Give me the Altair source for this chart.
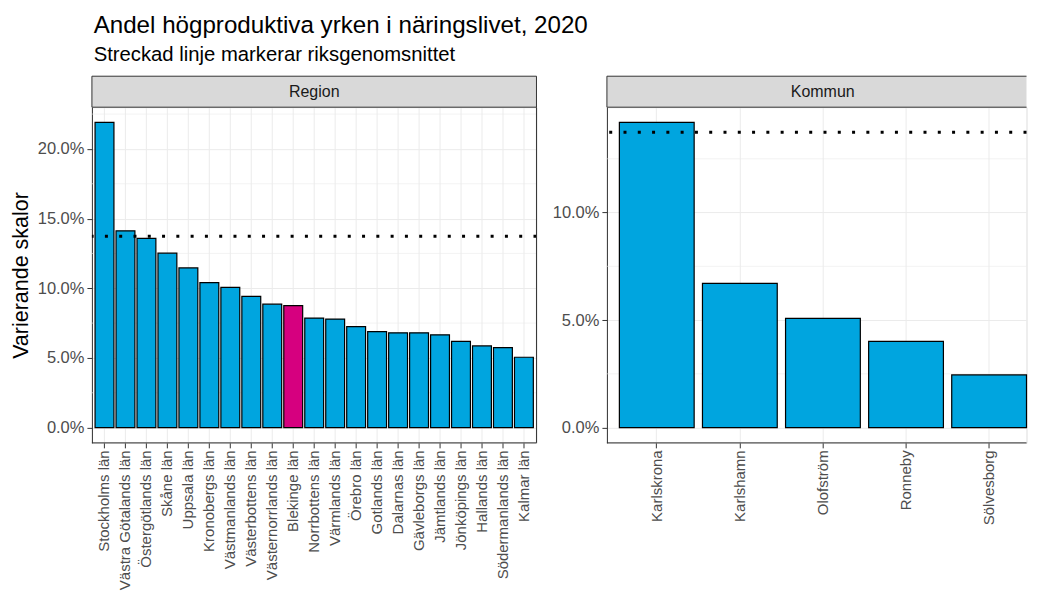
import altair as alt
import pandas as pd

FONT = "Liberation Sans"

region_names = ["Stockholms län", "Västra Götalands län", "Östergötlands län", "Skåne län",
                "Uppsala län", "Kronobergs län", "Västmanlands län", "Västerbottens län",
                "Västernorrlands län", "Blekinge län", "Norrbottens län", "Värmlands län",
                "Örebro län", "Gotlands län", "Dalarnas län", "Gävleborgs län", "Jämtlands län",
                "Jönköpings län", "Hallands län", "Södermanlands län", "Kalmar län"]
region_values = [0.2190, 0.1412, 0.1358, 0.1252, 0.1146, 0.1041, 0.1006, 0.0942, 0.0886,
                 0.0875, 0.0786, 0.0779, 0.0725, 0.0689, 0.0680, 0.0680, 0.0666, 0.0619,
                 0.0586, 0.0574, 0.0505]
kommun_names = ["Karlskrona", "Karlshamn", "Olofström", "Ronneby", "Sölvesborg"]
kommun_values = [0.1419, 0.0671, 0.0508, 0.0401, 0.0245]
highlight = "Blekinge län"
riks_avg = 0.1373
major_ticks = [0.0, 0.05, 0.10, 0.15, 0.20]
minor_ticks = [0.025, 0.075, 0.125, 0.175, 0.225]

BLUE = "#00A5DF"
PINK = "#D6007F"
GRID = "#EBEBEB"
DARK = "#333333"
STRIP_H = 31


def panel(strip_label, names, values, width, height, pad_outer, align,
          y_title, full_border):
    df = pd.DataFrame({
        "namn": names,
        "andel": values,
        "grupp": ["markerad" if n == highlight else "övrig" for n in names],
    })
    vmax = max(values)
    dom = [-0.05 * vmax, 1.05 * vmax]
    yscale = alt.Scale(domain=dom, nice=False, zero=False)
    ticks = [t for t in major_ticks if t <= dom[1]]
    minors = [t for t in minor_ticks if t <= dom[1]]

    xscale = alt.Scale(paddingInner=0.1, paddingOuter=pad_outer, align=align)
    x = alt.X("namn:N", sort=names, title=None, scale=xscale,
              axis=alt.Axis(labelAngle=270, labelAlign="right", labelBaseline="middle",
                            labelFontSize=15, labelColor="#4D4D4D", labelFont=FONT,
                            labelPadding=2, tickColor=DARK, tickSize=5, ticks=True,
                            grid=True, gridColor=GRID, gridWidth=1, bandPosition=0.5,
                            domain=False, labelOverlap=False))
    yaxis = alt.Axis(values=ticks, format=".1%", labelFontSize=16.5, labelColor="#4D4D4D",
                     labelFont=FONT, labelPadding=3, tickColor=DARK, tickSize=5,
                     grid=True, gridColor=GRID, gridWidth=1, domain=True, domainColor=DARK,
                     domainWidth=1, titleFont=FONT, titleFontSize=21.5, titleFontWeight="normal",
                     titleColor="black", titlePadding=5)
    if y_title:
        y = alt.Y("andel:Q", scale=yscale, title=y_title, axis=yaxis)
    else:
        y = alt.Y("andel:Q", scale=yscale, title=None, axis=yaxis)

    minor = alt.Chart(pd.DataFrame({"v": minors})).mark_rule(
        color=GRID, strokeWidth=0.6).encode(y=alt.Y("v:Q", scale=yscale))

    bars = alt.Chart(df).mark_bar(stroke="black", strokeWidth=1.2).encode(
        x=x, y=y, y2=alt.datum(0),
        color=alt.Color("grupp:N", scale=alt.Scale(domain=["övrig", "markerad"],
                                                    range=[BLUE, PINK]), legend=None))

    avg = alt.Chart(pd.DataFrame({"snitt": [riks_avg]})).mark_rule(
        color="black", strokeWidth=3, strokeDash=[3, 11.3], strokeCap="butt").encode(
        y=alt.Y("snitt:Q", scale=yscale))

    sdf = pd.DataFrame({"etikett": [strip_label]})
    strip_bg = alt.Chart(sdf).mark_rect(fill="#D9D9D9", stroke=DARK if full_border else None,
                                         strokeWidth=1).encode(
        x=alt.value(0), x2=alt.value(width), y=alt.value(-STRIP_H), y2=alt.value(0))
    strip_txt = alt.Chart(sdf).mark_text(font=FONT, fontSize=16, color="#1A1A1A",
                                         baseline="middle", align="center").encode(
        text="etikett:N", x=alt.value(width / 2 + (0 if full_border else 6)),
        y=alt.value(-STRIP_H / 2))

    bottom = alt.Chart(sdf).mark_rule(color=DARK, strokeWidth=1).encode(
        x=alt.value(0), x2=alt.value(width), y=alt.value(height))
    layers = [minor, bars, avg, strip_bg, strip_txt, bottom]
    if full_border:
        right = alt.Chart(sdf).mark_rule(color=DARK, strokeWidth=1).encode(
            x=alt.value(width), y=alt.value(0), y2=alt.value(height))
        layers.append(right)
    else:
        top = alt.Chart(sdf).mark_rule(color=DARK, strokeWidth=1).encode(
            x=alt.value(0), x2=alt.value(width), y=alt.value(-STRIP_H))
        bot = alt.Chart(sdf).mark_rule(color=DARK, strokeWidth=1).encode(
            x=alt.value(0), x2=alt.value(width), y=alt.value(0))
        lft = alt.Chart(sdf).mark_rule(color=DARK, strokeWidth=1).encode(
            x=alt.value(0), y=alt.value(-STRIP_H), y2=alt.value(0))
        layers += [top, bot, lft]
    return alt.layer(*layers).properties(width=width, height=height)


left = panel("Region", region_names, region_values, 445, 336, 0.15, 0.5,
             "Varierande skalor", True)
right = panel("Kommun", kommun_names, kommun_values, 420, 336, 0.075, 1.0,
              None, False)

chart = alt.hconcat(left, right, spacing=12.5).resolve_scale(
    x="independent", y="independent", color="shared"
).properties(
    title=alt.TitleParams(
        text="Andel högproduktiva yrken i näringslivet, 2020",
        subtitle="Streckad linje markerar riksgenomsnittet",
        anchor="start", font=FONT, fontSize=24.2, fontWeight="normal", color="black",
        subtitleFont=FONT, subtitleFontSize=20.3, subtitleColor="black",
        subtitlePadding=7, offset=10, dx=84),
    padding={"left": 1, "top": 5, "right": 0, "bottom": 0},
).configure_view(stroke=None).configure(background="white")

chart.save("out.html", embed_options={"renderer": "svg", "actions": False})
